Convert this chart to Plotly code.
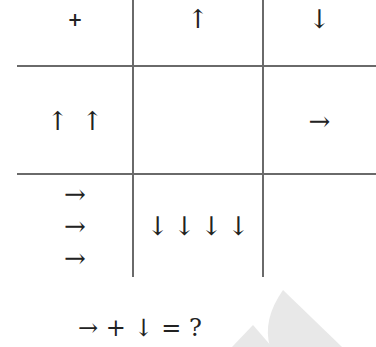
import plotly.graph_objects as go

VS = "\ufe0e"  # force text (non-emoji) presentation of arrows
UP, DOWN, RIGHT = "↑" + VS, "↓" + VS, "→" + VS

# cell contents of the 3x3 grid (row by row)
row_top = ["<b>+</b>", UP, DOWN]
row_mid = [UP + "\u2002" + UP, "", RIGHT]
row_bot = [[RIGHT, RIGHT, RIGHT], ["\u2009".join([DOWN] * 4)], []]
equation = RIGHT + " + " + DOWN + " = ?"

# grid geometry in pixel units
W, H = 376, 347
col_edges = [17, 133, 263, 376]
row_edges = [-30, 66, 174, 277]
line_gap = 32
line_color = "#6a6a6a"
font = dict(family="DejaVu Serif, Liberation Serif, serif", size=26, color="#222")

fig = go.Figure()

# grid lines
for x in col_edges[1:-1]:
    fig.add_shape(type="line", x0=x, x1=x, y0=row_edges[0], y1=row_edges[-1],
                  line=dict(color=line_color, width=2))
for y in row_edges[1:-1]:
    fig.add_shape(type="line", x0=col_edges[0], x1=col_edges[-1], y0=y, y1=y,
                  line=dict(color=line_color, width=2))

# watermark (faint mountains)
fig.add_shape(type="path", path="M 270 347 Q 262 320 283 290 L 342 347 Z",
              fillcolor="#e8e8e8", line=dict(width=0), layer="below")
fig.add_shape(type="path", path="M 232 347 L 253 325 L 272 347 Z",
              fillcolor="#e8e8e8", line=dict(width=0), layer="below")

xs, ys, txt, sizes = [], [], [], []
grid = [[[t] if t else [] for t in row_top],
        [[t] if t else [] for t in row_mid],
        row_bot]
for r, row in enumerate(grid):
    yc = (row_edges[r] + row_edges[r + 1]) / 2 + 3
    for c, items in enumerate(row):
        xc = (col_edges[c] + col_edges[c + 1]) / 2
        n = len(items)
        for i, t in enumerate(items):
            xs.append(xc)
            ys.append(yc + (i - (n - 1) / 2) * line_gap)
            txt.append(t)
            sizes.append(18 if "+" in t else font["size"])

fig.add_trace(go.Scatter(x=xs, y=ys, text=txt, mode="text",
                         textfont=dict(family=font["family"], size=sizes, color=font["color"]),
                         hoverinfo="skip", showlegend=False))

fig.add_annotation(x=140, y=328, text=equation,
                   showarrow=False, xanchor="center", yanchor="middle",
                   font=dict(family=font["family"], size=24, color="#222"))

fig.update_layout(
    width=W, height=H,
    margin=dict(l=0, r=0, t=0, b=0),
    paper_bgcolor="white", plot_bgcolor="white",
    xaxis=dict(range=[0, W], visible=False, fixedrange=True),
    yaxis=dict(range=[H, 0], visible=False, fixedrange=True),
)

fig.write_html("out.html", config={"displayModeBar": False},
               post_script="document.body.style.margin='0';")
